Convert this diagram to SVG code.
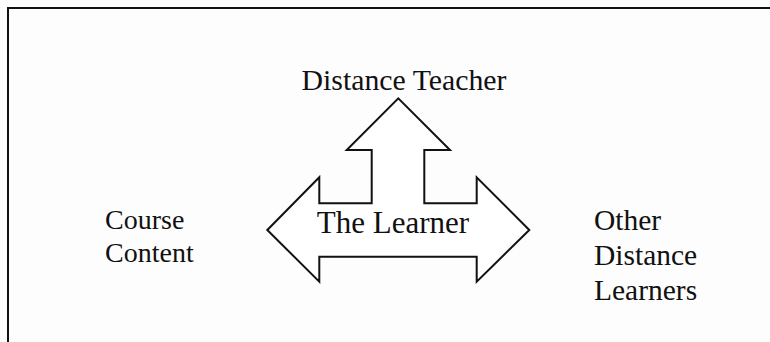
<svg xmlns="http://www.w3.org/2000/svg" width="770" height="342" viewBox="0 0 770 342">
<style>
.t{font-family:"Liberation Serif","Times New Roman",serif;fill:#111;}
.frame{fill:none;stroke:#111;stroke-width:2;}
.arrow{fill:#fff;stroke:#111;stroke-width:2;stroke-linejoin:miter;}
</style>
<rect width="770" height="342" fill="#fdfdfd"/>
<path class="frame" d="M8,342 V8 H770"/>
<g id="learner">
<path class="arrow" d="M267.3,230 L319.3,177.3 L319.3,203.3 L371.7,203.3 L371.7,150 L346.7,150 L398.3,98.3 L450,150 L424.3,150 L424.3,203.3 L476.7,203.3 L476.7,177.3 L529.3,230 L476.7,281.7 L476.7,256.7 L319.3,256.7 L319.3,281.7 Z"/>
<text class="t" x="393" y="233" font-size="31" text-anchor="middle">The Learner</text>
</g>
<g id="teacher">
<text class="t" x="404" y="90" font-size="29.8" text-anchor="middle">Distance Teacher</text>
</g>
<g id="content">
<text class="t" x="105" y="229" font-size="28">Course</text>
<text class="t" x="105" y="262" font-size="28">Content</text>
</g>
<g id="others">
<text class="t" x="594" y="230" font-size="29.5">Other</text>
<text class="t" x="594" y="265" font-size="29.5">Distance</text>
<text class="t" x="594" y="300" font-size="29.5">Learners</text>
</g>
<g id="connectors"></g>
</svg>
